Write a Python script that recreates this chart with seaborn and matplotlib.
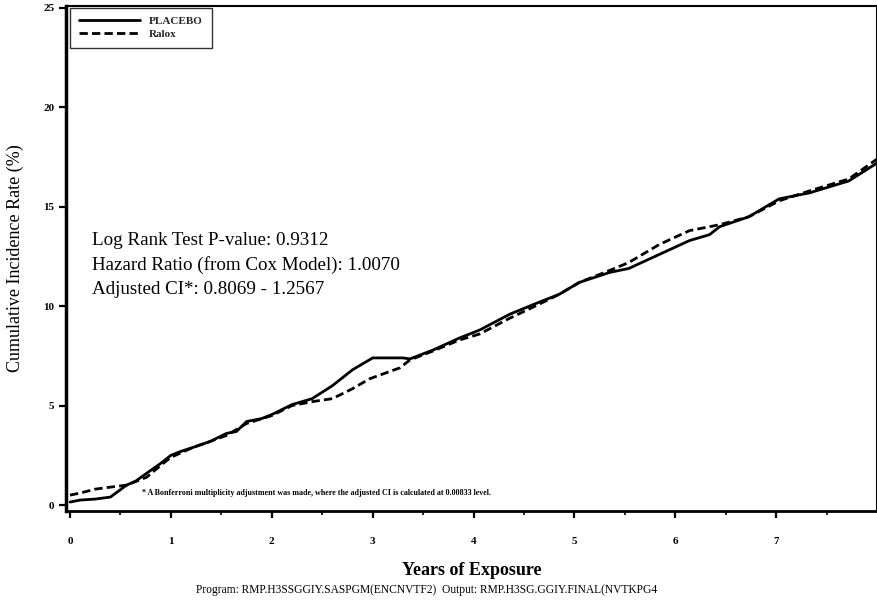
import matplotlib
matplotlib.use("Agg")
import matplotlib.pyplot as plt
import seaborn as sns
import pandas as pd

# ---- data ----
placebo_x = [0, 0.1, 0.25, 0.4, 0.56, 0.65, 0.76, 0.9, 1.0, 1.1, 1.22, 1.39, 1.55, 1.65, 1.75,
             1.9, 2.0, 2.2, 2.4, 2.6, 2.8, 3.0, 3.3, 3.37, 3.6, 3.86, 4.06, 4.36, 4.65, 4.85,
             5.05, 5.35, 5.54, 5.84, 6.14, 6.34, 6.44, 6.73, 7.03, 7.33, 7.72, 8.0]
placebo_y = [0.15, 0.25, 0.3, 0.4, 1.0, 1.2, 1.6, 2.1, 2.5, 2.7, 2.9, 3.2, 3.6, 3.7, 4.2,
             4.35, 4.55, 5.05, 5.35, 6.0, 6.8, 7.4, 7.4, 7.35, 7.8, 8.4, 8.8, 9.6, 10.2, 10.6,
             11.2, 11.7, 11.9, 12.6, 13.3, 13.6, 14.0, 14.5, 15.4, 15.7, 16.3, 17.2]

ralox_x = [0, 0.1, 0.25, 0.4, 0.56, 0.76, 0.9, 1.0, 1.22, 1.39, 1.55, 1.75, 2.0, 2.2, 2.4,
           2.6, 2.8, 2.97, 3.27, 3.37, 3.6, 3.86, 4.06, 4.36, 4.65, 4.85, 5.05, 5.35, 5.54,
           5.84, 6.14, 6.34, 6.44, 6.73, 7.03, 7.33, 7.72, 8.0]
ralox_y = [0.5, 0.6, 0.8, 0.9, 1.0, 1.4, 2.0, 2.4, 2.9, 3.2, 3.5, 4.1, 4.5, 5.0, 5.2,
           5.35, 5.85, 6.35, 6.9, 7.3, 7.75, 8.3, 8.6, 9.4, 10.1, 10.6, 11.2, 11.8, 12.2,
           13.1, 13.8, 14.0, 14.1, 14.5, 15.3, 15.8, 16.4, 17.4]

series_names = ["PLACEBO", "Ralox"]
x_ticks = [0, 1, 2, 3, 4, 5, 6, 7]
y_ticks = [0, 5, 10, 15, 20, 25]
stats_lines = ["Log Rank Test P-value: 0.9312",
               "Hazard Ratio (from Cox Model): 1.0070",
               "Adjusted CI*: 0.8069 - 1.2567"]
footnote = ("* A Bonferroni multiplicity adjustment was made, where the adjusted CI is "
            "calculated at 0.00833 level.")
program_line = ("Program: RMP.H3SSGGIY.SASPGM(ENCNVTF2)  "
                "Output: RMP.H3SG.GGIY.FINAL(NVTKPG4")

df = pd.concat([
    pd.DataFrame({"x": placebo_x, "y": placebo_y, "group": series_names[0]}),
    pd.DataFrame({"x": ralox_x, "y": ralox_y, "group": series_names[1]}),
])

sns.set_theme(style="white")
plt.rcParams["font.family"] = ["Liberation Serif", "DejaVu Serif"]

fig = plt.figure(figsize=(8.77, 6.04), dpi=100)
ax = fig.add_axes([66 / 877, 93 / 604, 1 - 66 / 877, 505 / 604])

sns.lineplot(data=df, x="x", y="y", hue="group", style="group",
             palette={"PLACEBO": "black", "Ralox": "black"},
             dashes={"PLACEBO": "", "Ralox": (3, 1.5)},
             linewidth=2.0, ax=ax, sort=False, estimator=None)

ax.set_xlim(-0.04, 8.0)
ax.set_ylim(-0.3, 25.1)
ax.set_xticks(x_ticks)
ax.set_xticks([0.5 + i for i in range(8)], minor=True)
ax.set_yticks(y_ticks)
ax.tick_params(axis="both", which="major", direction="out", length=5, width=1.6,
               labelsize=8, color="black", labelcolor="black", bottom=True, left=True)
ax.tick_params(axis="x", which="minor", direction="out", length=3, width=1.2,
               color="black", bottom=True)
ax.tick_params(axis="x", which="major", pad=14)
for lab in ax.get_xticklabels() + ax.get_yticklabels():
    lab.set_fontweight("bold")

for side in ["left", "bottom", "top", "right"]:
    ax.spines[side].set_color("black")
ax.spines["left"].set_linewidth(2.5)
ax.spines["bottom"].set_linewidth(2.0)
ax.spines["top"].set_linewidth(1.5)
ax.spines["right"].set_linewidth(1.5)

ax.set_xlabel("Years of Exposure", fontsize=13, labelpad=11, color="black",
              fontweight="semibold")
ax.set_ylabel("Cumulative Incidence Rate (%)", fontsize=13, labelpad=14, color="black")

leg = ax.legend(loc="upper left", prop={"size": 8, "weight": "bold"}, frameon=True,
                fancybox=False, edgecolor="black", handlelength=5.5, borderpad=0.8,
                labelspacing=0.3, handletextpad=0.8,
                bbox_to_anchor=(0.005, 0.997), borderaxespad=0.0, title=None)
leg.get_frame().set_linewidth(1.0)

for i, line in enumerate(stats_lines):
    ax.text(0.22, 13.3 - i * 1.24, line, fontsize=13.7, color="black", va="center")

ax.text(0.71, 0.6, footnote, fontsize=5.8, fontweight="bold", color="black", va="center")

fig.text(427 / 877, 1 - 590 / 604, program_line, fontsize=8.3, ha="center",
         va="center", color="black")

fig.savefig("out.png", dpi=100)
